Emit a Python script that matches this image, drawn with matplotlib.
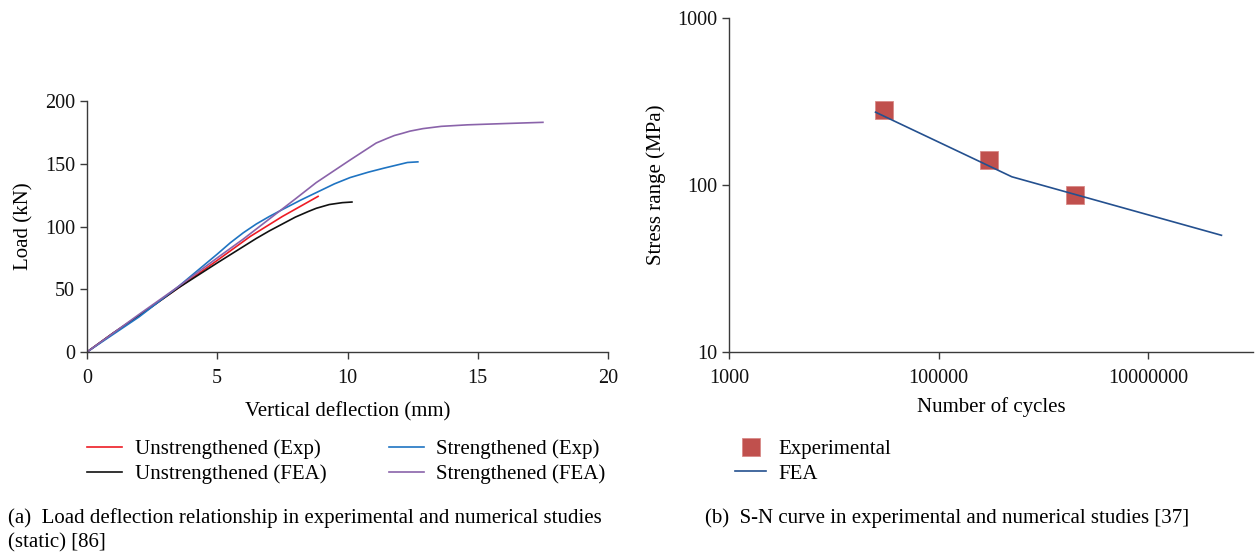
import matplotlib.pyplot as plt
from matplotlib.ticker import FixedLocator, FixedFormatter, NullLocator

plt.rcParams['font.family'] = ['Liberation Serif', 'DejaVu Serif']

# (a) load-deflection curves
unstr_exp_x = [0, 1, 2, 3.5, 5, 6.26, 7.5, 8.87]
unstr_exp_y = [0, 15, 29, 51, 73, 92, 108, 124]
unstr_fea_x = [0, 1, 2, 3.5, 5, 6, 6.5, 7, 7.5, 8, 8.5, 8.8, 9.3, 9.8, 10.17]
unstr_fea_y = [0, 15, 29, 51, 71, 84, 90.5, 96.5, 102, 107.5, 112, 114.5, 117.5, 119, 119.5]
str_exp_x = [0, 1, 2, 3.5, 5, 5.5, 6, 6.5, 7, 7.5, 8.2, 8.8, 9.5, 10.1, 10.8, 11.4, 12.0, 12.3, 12.7]
str_exp_y = [0, 14, 28, 52, 78, 87, 95, 102, 108, 113.5, 121, 127, 134, 139, 143.3, 146.5, 149.5, 151, 151.5]
str_fea_x = [0, 1, 2, 3.5, 5, 6, 7, 8, 8.8, 10.1, 11.1, 11.5, 11.8, 12.1, 12.4, 12.9, 13.6, 14.6, 16, 17.5]
str_fea_y = [0, 15, 30, 52, 75, 90, 106, 122, 135, 153, 166.5, 170, 172.5, 174.2, 176, 178, 179.8, 181, 182, 183]

# (b) S-N curve
exp_cycles = [30000, 300000, 2000000]
exp_stress = [281, 141, 87]
fea_cycles = [25000, 500000, 50000000]
fea_stress = [273, 112, 50]

fig = plt.figure(figsize=(12.55, 5.54), dpi=100)
ax1 = fig.add_axes([0.0693, 0.3646, 0.4152, 0.4531])
ax2 = fig.add_axes([0.5809, 0.3646, 0.4175, 0.6029])

spine_col = '#3a3a3a'
for ax in (ax1, ax2):
    for s in ('top', 'right'):
        ax.spines[s].set_visible(False)
    for s in ('left', 'bottom'):
        ax.spines[s].set_color(spine_col)
        ax.spines[s].set_linewidth(1.0)
    ax.tick_params(direction='out', length=5, width=1, color=spine_col,
                   labelsize=14.5, labelcolor='#111111')
    ax.tick_params(axis='x', pad=7)

ax1.plot(unstr_exp_x, unstr_exp_y, color='#ee1c25', lw=1.2, label='Unstrengthened (Exp)')
ax1.plot(unstr_fea_x, unstr_fea_y, color='#111111', lw=1.2, label='Unstrengthened (FEA)')
ax1.plot(str_exp_x, str_exp_y, color='#1f74c2', lw=1.2, label='Strengthened (Exp)')
ax1.plot(str_fea_x, str_fea_y, color='#8a63aa', lw=1.2, label='Strengthened (FEA)')
ax1.set_xlim(0, 20)
ax1.set_ylim(0, 200)
ax1.set_xticks([0, 5, 10, 15, 20])
ax1.set_yticks([0, 50, 100, 150, 200])
ax1.set_xlabel('Vertical deflection (mm)', fontsize=15, labelpad=10)
ax1.set_ylabel('Load (kN)', fontsize=15, labelpad=8)
ax1.legend(loc='upper left', bbox_to_anchor=(0.0627, 0.222), bbox_transform=fig.transFigure,
           ncol=2, frameon=False, fontsize=15, handlelength=1.7, handletextpad=0.58,
           columnspacing=3.0, labelspacing=0.25, borderaxespad=0)

ax2.plot(exp_cycles, exp_stress, ls='none', marker='s', ms=13, color='#c0504d',
         mec='#d98a88', mew=0.6, label='Experimental')
ax2.plot(fea_cycles, fea_stress, color='#24508f', lw=1.2, label='FEA')
ax2.set_xscale('log')
ax2.set_yscale('log')
ax2.set_xlim(1e3, 1e8)
ax2.set_ylim(10, 1000)
ax2.xaxis.set_major_locator(FixedLocator([1e3, 1e5, 1e7]))
ax2.xaxis.set_major_formatter(FixedFormatter(['1000', '100000', '10000000']))
ax2.xaxis.set_minor_locator(NullLocator())
ax2.yaxis.set_major_locator(FixedLocator([10, 100, 1000]))
ax2.yaxis.set_major_formatter(FixedFormatter(['10', '100', '1000']))
ax2.yaxis.set_minor_locator(NullLocator())
ax2.set_xlabel('Number of cycles', fontsize=15, labelpad=7)
ax2.set_ylabel('Stress range (MPa)', fontsize=15, labelpad=8)
ax2.legend(loc='upper left', bbox_to_anchor=(0.579, 0.222), bbox_transform=fig.transFigure,
           frameon=False, fontsize=15, handlelength=1.5, handletextpad=0.6,
           labelspacing=0.25, borderaxespad=0)

fig.text(0.006, 0.065, '(a)  Load deflection relationship in experimental and numerical studies',
         fontsize=15, va='center', ha='left')
fig.text(0.006, 0.021, '(static) [86]', fontsize=15, va='center', ha='left')
fig.text(0.562, 0.065, '(b)  S-N curve in experimental and numerical studies [37]',
         fontsize=15, va='center', ha='left')

fig.savefig('out.png', dpi=100)
